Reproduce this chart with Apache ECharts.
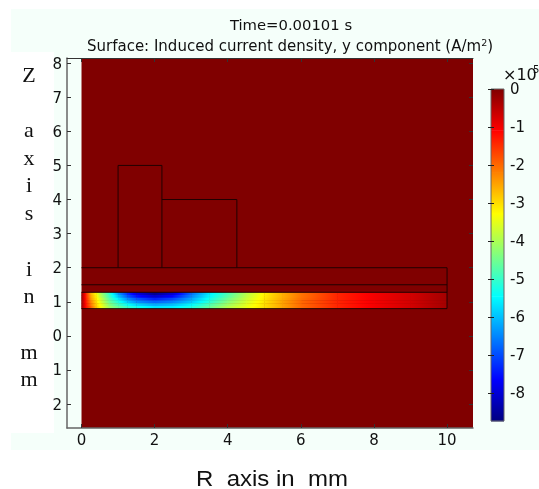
<!DOCTYPE html>
<html><head><meta charset="utf-8">
<style>html,body{margin:0;padding:0;background:#fff}#c{width:539px;height:489px}</style>
<script src="https://cdn.jsdelivr.net/npm/echarts@6/dist/echarts.min.js"></script>
</head><body><div id="c"></div>
<script>
const xTicks=[0,2,4,6,8,10];
const yTicks=[8,7,6,5,4,3,2,1,0,-1,-2];
const barTicks=[0,-1,-2,-3,-4,-5,-6,-7,-8];
const barLevels=[0,-1.09,-2.2,-3.28,-4.37,-5.46,-6.55,-7.65,-8.74];
const jetColors=['#800000','#ff0000','#ff8000','#ffff00','#80ff80','#00ffff','#0080ff','#0000ff','#000080'];
const stripR=[0,0.1,0.25,0.4,0.5,0.75,1,1.25,1.5,2,2.5,3,3.5,4,4.5,5,5.5,6,7,8,9,10];
const stripZ=[1.28,1.2,1.12,1.04,0.96,0.88,0.8];
const row1=[-0.2,-1.2,-2.6,-3.3,-3.9,-5.0,-6.3,-7.2,-7.9,-8.6,-8.0,-6.7,-5.6,-4.8,-3.9,-3.2,-2.6,-2.1,-1.4,-1.0,-0.7,-0.3];
const row2=[-0.2,-1.2,-2.5,-3.2,-3.8,-4.9,-6.0,-6.9,-7.5,-8.1,-7.6,-6.5,-5.5,-4.7,-3.85,-3.15,-2.6,-2.1,-1.4,-1.0,-0.7,-0.3];
const row3=[-0.2,-1.15,-2.4,-3.1,-3.6,-4.7,-5.6,-6.4,-6.9,-7.4,-7.0,-6.2,-5.3,-4.5,-3.75,-3.1,-2.55,-2.05,-1.4,-1.0,-0.7,-0.3];
const row4=[-0.2,-1.15,-2.2,-3.0,-3.5,-4.5,-5.2,-5.9,-6.4,-6.8,-6.5,-5.9,-5.1,-4.3,-3.65,-3.05,-2.5,-2.0,-1.4,-1.0,-0.7,-0.3];
const row5=[-0.2,-1.1,-2.1,-2.9,-3.3,-4.3,-4.9,-5.4,-5.8,-6.2,-6.0,-5.5,-4.8,-4.1,-3.55,-3.0,-2.5,-2.0,-1.4,-1.0,-0.7,-0.3];
const row6=[-0.2,-1.1,-1.9,-2.8,-3.2,-4.1,-4.6,-5.0,-5.3,-5.7,-5.6,-5.2,-4.6,-3.9,-3.45,-3.0,-2.5,-2.0,-1.4,-1.0,-0.7,-0.3];
const stripRows=[row1,row2,row3,row4,row5,row6];
const domainBox=[0,10.71,-2.7,8.15];
const outlineA=[[1,2],[1,5],[2.2,5],[2.2,2]];
const outlineB=[[2.2,4],[4.25,4],[4.25,2]];
const outlineC=[[0,2],[10,2],[10,0.8],[0,0.8]];
const outlineD=[[0,1.5],[10,1.5]];
const outlineE=[[0,1.28],[10,1.28]];
const xLimits=[-0.397,10.71];
const yLimits=[-2.7,8.15];
const barLimits=[-8.74,0];
const sideLetters='Z\n\na\nx\ni\ns\n\ni\nn\n\nm\nm';

function hex(c){return [1,3,5].map(i=>parseInt(c.substr(i,2),16));}
function jet(v){
  const n=barLevels.length;
  if(v>=barLevels[0])return jetColors[0];
  if(v<=barLevels[n-1])return jetColors[n-1];
  for(let i=0;i<n-1;i++){
    if(v<=barLevels[i]&&v>=barLevels[i+1]){
      const t=(barLevels[i]-v)/(barLevels[i]-barLevels[i+1]);
      const a=hex(jetColors[i]),b=hex(jetColors[i+1]);
      return 'rgb('+a.map((x,k)=>Math.round(x+(b[k]-x)*t)).join(',')+')';
    }
  }
}
function stops(v0,v1){
  const out=[];
  for(let i=0;i<=6;i++){const t=i/6;out.push({offset:t,color:jet(v0+(v1-v0)*t)});}
  return out;
}
const stripData=[];
stripRows.forEach((row,j)=>{
  for(let i=0;i<stripR.length-1;i++){
    stripData.push([stripR[i],stripR[i+1],stripZ[j],stripZ[j+1],row[i],row[i+1]]);
  }
});
const barData=[];
for(let i=0;i<barLevels.length-1;i++)barData.push([barLevels[i],barLevels[i+1]]);

const axisFont={color:'#111',fontFamily:'DejaVu Sans',fontSize:15};
const tickLine={color:'#333',width:1};
const frame={show:true,onZero:false,lineStyle:{color:'#666',width:1.5}};
function lineSeries(d){return {type:'line',xAxisIndex:0,yAxisIndex:0,data:d,showSymbol:false,silent:true,z:4,
  lineStyle:{color:'#200000',width:1},animation:false};}

const chart=echarts.init(document.getElementById('c'),null,{renderer:'canvas'});
chart.setOption({
  animation:false,
  backgroundColor:'#ffffff',
  title:[
    {text:'Time=0.00101 s',left:286,top:14,textAlign:'center',textStyle:{fontFamily:'DejaVu Sans',fontSize:14.8,fontWeight:'normal',color:'#111'}},
    {text:'{a|Surface: Induced current density, y component (A/m}{s|2}{a|)}',left:285,top:34,textAlign:'center',
     textStyle:{fontWeight:'normal',rich:{a:{fontFamily:'DejaVu Sans',fontSize:15,fontWeight:'normal',color:'#111'},s:{fontFamily:'DejaVu Sans',fontSize:9.5,fontWeight:'normal',color:'#111',verticalAlign:'top',padding:[0,0,6,0]}}}}
  ],
  graphic:{elements:[
    {type:'rect',z:-10,silent:true,shape:{x:11,y:9,width:528,height:441},style:{fill:'#f5fffa'}},
    {type:'rect',z:-9,silent:true,shape:{x:0,y:52,width:54,height:381},style:{fill:'#ffffff'}},
    {type:'text',z:20,silent:true,x:29,y:62,style:{text:sideLetters,fontFamily:'Liberation Serif',fontSize:22,lineHeight:27.7,fill:'#111',align:'center'}},
    {type:'text',z:20,silent:true,x:272,y:469,scaleX:1.09,style:{text:'R  axis in  mm',fontFamily:'Liberation Sans',fontSize:22,fill:'#111',align:'center'}},
    {type:'text',z:20,silent:true,x:503,y:68,style:{text:'×10',fontFamily:'DejaVu Sans',fontSize:16,fill:'#111'}},
    {type:'text',z:20,silent:true,x:533,y:65,style:{text:'5',fontFamily:'DejaVu Sans',fontSize:10,fill:'#111'}}
  ]},
  grid:[
    {left:67,top:58,width:406,height:370},
    {left:491,top:89,width:13,height:332}
  ],
  xAxis:[
    {type:'value',gridIndex:0,position:'bottom',min:xLimits[0],max:xLimits[1],splitLine:{show:false},z:6,
     axisLine:frame,axisTick:{show:true,inside:true,length:4,customValues:xTicks,lineStyle:tickLine},
     axisLabel:{...axisFont,margin:6,customValues:xTicks,showMinLabel:true,showMaxLabel:true}},
    {type:'value',gridIndex:0,position:'top',min:xLimits[0],max:xLimits[1],splitLine:{show:false},z:6,
     axisLine:{show:true,onZero:false,lineStyle:{color:'#333',width:1}},axisTick:{show:true,inside:true,length:4,customValues:xTicks,lineStyle:tickLine},axisLabel:{show:false}},
    {type:'value',gridIndex:1,min:0,max:1,show:false}
  ],
  yAxis:[
    {type:'value',gridIndex:0,position:'left',min:yLimits[0],max:yLimits[1],splitLine:{show:false},z:6,
     axisLine:frame,axisTick:{show:true,inside:true,length:4,customValues:yTicks,lineStyle:tickLine},
     axisLabel:{...axisFont,margin:5,verticalAlign:'top',lineHeight:3,customValues:yTicks,formatter:v=>String(Math.abs(v))}},
    {type:'value',gridIndex:0,position:'right',min:yLimits[0],max:yLimits[1],splitLine:{show:false},z:6,
     axisLine:{show:false,onZero:false},axisTick:{show:true,inside:true,length:4,customValues:yTicks,lineStyle:tickLine},axisLabel:{show:false}},
    {type:'value',gridIndex:1,position:'right',min:barLimits[0],max:barLimits[1],splitLine:{show:false},z:6,
     axisLine:{show:false},axisTick:{show:true,inside:true,length:3,customValues:barTicks,lineStyle:{color:'#222',width:1}},
     axisLabel:{...axisFont,margin:6,verticalAlign:'top',lineHeight:3,customValues:barTicks,formatter:v=>String(v)}},
    {type:'value',gridIndex:1,position:'left',min:barLimits[0],max:barLimits[1],splitLine:{show:false},z:6,
     axisLine:{show:false},axisTick:{show:true,inside:true,length:3,customValues:barTicks,lineStyle:{color:'#222',width:1}},axisLabel:{show:false}}
  ],
  series:[
    {type:'custom',xAxisIndex:0,yAxisIndex:0,silent:true,z:1,clip:true,data:[domainBox],
     renderItem:(p,api)=>{
       const a=api.coord([api.value(0),api.value(3)]),b=api.coord([api.value(1),api.value(2)]);
       return {type:'rect',shape:{x:a[0],y:a[1],width:b[0]-a[0],height:b[1]-a[1]},style:{fill:jetColors[0]}};
     }},
    {type:'custom',xAxisIndex:0,yAxisIndex:0,silent:true,z:2,data:stripData,
     renderItem:(p,api)=>{
       const a=api.coord([api.value(0),api.value(2)]),b=api.coord([api.value(1),api.value(3)]);
       return {type:'rect',shape:{x:a[0],y:a[1],width:b[0]-a[0]+0.4,height:b[1]-a[1]+0.4},
         style:{fill:{type:'linear',x:0,y:0,x2:1,y2:0,colorStops:stops(api.value(4),api.value(5))}}};
     }},
    lineSeries(outlineA),lineSeries(outlineB),lineSeries(outlineC),lineSeries(outlineD),lineSeries(outlineE),
    {type:'custom',xAxisIndex:2,yAxisIndex:2,silent:true,z:2,data:barData,
     renderItem:(p,api)=>{
       const a=api.coord([0,api.value(0)]),b=api.coord([1,api.value(1)]);
       return {type:'rect',shape:{x:a[0],y:a[1],width:b[0]-a[0],height:b[1]-a[1]+0.4},
         style:{fill:{type:'linear',x:0,y:0,x2:0,y2:1,colorStops:stops(api.value(0),api.value(1))}}};
     }},
    {type:'custom',xAxisIndex:2,yAxisIndex:2,silent:true,z:3,data:[[barLimits[1],barLimits[0]]],
     renderItem:(p,api)=>{
       const a=api.coord([0,api.value(0)]),b=api.coord([1,api.value(1)]);
       return {type:'rect',shape:{x:a[0],y:a[1],width:b[0]-a[0],height:b[1]-a[1]},style:{fill:'none',stroke:'#666',lineWidth:1}};
     }}
  ]
});
</script></body></html>
